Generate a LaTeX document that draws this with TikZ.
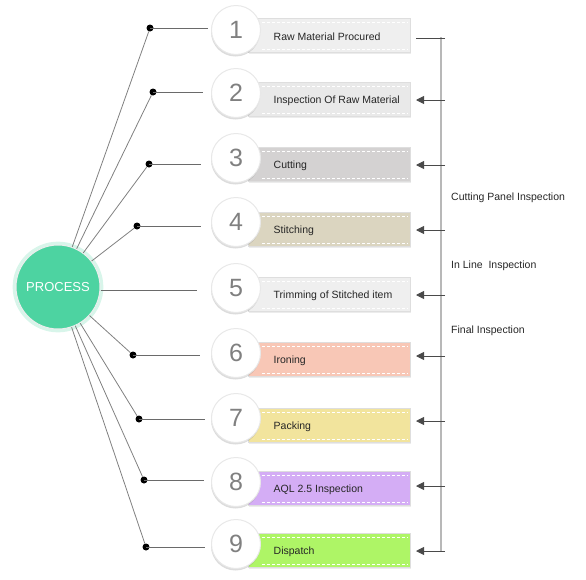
\documentclass[tikz,border=0pt]{standalone}
\usepackage{fontspec}
\setmainfont{Liberation Sans}
\usetikzlibrary{shadows,arrows.meta}
\definecolor{procgreen}{HTML}{4DD3A1}
\definecolor{bx1}{HTML}{EFEFEF}
\definecolor{bx2}{HTML}{E9E9E9}
\definecolor{bx3}{HTML}{D4D2D2}
\definecolor{bx4}{HTML}{DBD5C0}
\definecolor{bx5}{HTML}{EFEFEF}
\definecolor{bx6}{HTML}{F8C7B6}
\definecolor{bx7}{HTML}{F2E49D}
\definecolor{bx8}{HTML}{D4ADF5}
\definecolor{bx9}{HTML}{AEF566}
\definecolor{linkgray}{HTML}{808080}
\definecolor{hgray}{HTML}{6A6A6A}
\definecolor{tickgray}{HTML}{4A4A4A}
\definecolor{bargray}{HTML}{B8B8B8}
\begin{document}
\begin{tikzpicture}[x=1pt,y=-1pt,
  stepbar/.style={rectangle, minimum width=162pt, minimum height=34pt, inner sep=0pt,
    draw=black!13, line width=1pt,
    drop shadow={shadow xshift=1pt, shadow yshift=-1.5pt, opacity=0.15}},
  dashes/.style={draw=white, line width=0.7pt, dash pattern=on 3pt off 2pt},
  numcirc/.style={circle, fill=white, draw=black!9, line width=1pt, minimum size=49pt,
    inner sep=0pt, text=black!50, font=\fontsize{25}{25}\selectfont,
    drop shadow={shadow xshift=-0.5pt, shadow yshift=-2pt, opacity=0.28}},
  steptext/.style={anchor=west, inner sep=0pt, text=black!85, font=\fontsize{10.5}{12}\selectfont},
  lbl/.style={anchor=west, inner sep=0pt, text=black!85, font=\fontsize{10.5}{12}\selectfont},
  dotnode/.style={circle, fill=black, inner sep=0pt, minimum size=7pt},
  link/.style={draw=linkgray, line width=0.8pt},
  hline/.style={draw=hgray, line width=1pt},
  tickline/.style={draw=tickgray, line width=0.9pt},
  tickarrow/.style={tickline, -{Triangle[length=8pt,width=8pt]}},
  procnode/.style={circle, fill=procgreen, draw=black!7, line width=1pt, minimum size=84pt,
    inner sep=0pt, text=white, font=\fontsize{13}{14}\selectfont,
    drop shadow={shadow scale=1.08, shadow xshift=0pt, shadow yshift=0pt, fill=procgreen, opacity=0.22}}
]
\useasboundingbox (0,0) rectangle (586,579);

% right bracket
\coordinate (vt) at (441,37);
\coordinate (vb) at (441,552);
\draw[draw=bargray, line width=1.5pt] (vt) -- (vb);

% step bars
\foreach \k/\bc/\col/\txt in {
  1/35/bx1/Raw Material Procured,
  2/99/bx2/Inspection Of Raw Material,
  3/164/bx3/Cutting,
  4/229/bx4/Stitching,
  5/294/bx5/Trimming of Stitched item,
  6/359/bx6/Ironing,
  7/425/bx7/Packing,
  8/488/bx8/AQL 2.5 Inspection,
  9/550/bx9/Dispatch} {
  \node[stepbar, fill=\col] (b\k) at (329,\bc) {};
  \draw[dashes] ([xshift=14pt,yshift=-4.5pt]b\k.north west) -- ([xshift=-3pt,yshift=-4.5pt]b\k.north east);
  \draw[dashes] ([xshift=14pt,yshift=3.5pt]b\k.south west) -- ([xshift=-3pt,yshift=3.5pt]b\k.south east);
  \node[steptext] (t\k) at ([xshift=26pt,yshift=-1.5pt]b\k.west) {\txt};
}

% number circles
\foreach \k/\cc in {1/30,2/93,3/158,4/222,5/288,6/353,7/418,8/482,9/544} {
  \node[numcirc] (n\k) at (236,\cc) {\k};
}

% process node
\node[procnode] (proc) at (58,287) {PROCESS};

% connectors with dots
\foreach \k/\dx/\dy/\ex in {1/150/28/208, 2/153/92/203, 3/149/164/201, 4/137/226/201,
  6/133/355/200, 7/139/419/205, 8/144/480/204, 9/146/547/205} {
  \node[dotnode] (d\k) at (\dx,\dy) {};
  \coordinate (e\k) at (\ex,\dy);
  \draw[link] (proc) -- (d\k);
  \draw[hline] (d\k.center) -- (e\k);
}
\coordinate (e5) at (197,290);
\draw[hline] (proc.east |- e5) -- (e5);

% ticks and arrows
\coordinate (s1) at (445,38);
\coordinate (p1) at (416,38);
\draw[tickline] (s1) -- (p1);
\foreach \k/\ay in {2/100,3/165,4/230,5/295,6/356,7/421,8/486,9/551} {
  \coordinate (s\k) at (445,\ay);
  \coordinate (p\k) at (416,\ay);
  \draw[tickarrow] (s\k) -- (p\k);
}

% labels
\node[lbl] (lcp) at (451,198) {Cutting Panel Inspection};
\node[lbl] (lil) at (451,266) {In Line\ \ Inspection};
\node[lbl] (lfi) at (451,331) {Final Inspection};
\end{tikzpicture}
\end{document}
